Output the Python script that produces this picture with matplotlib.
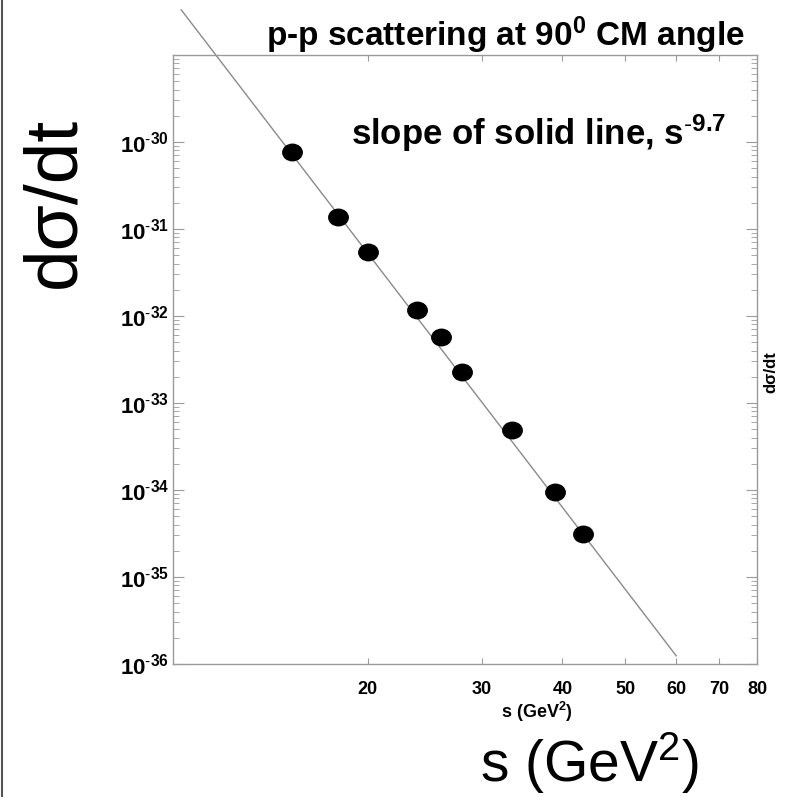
import numpy as np
import matplotlib
matplotlib.use("Agg")
import matplotlib.pyplot as plt
import matplotlib.path as mpath
from matplotlib.lines import Line2D
from matplotlib.ticker import FixedLocator, FixedFormatter, NullFormatter, NullLocator

plt.rcParams['font.family'] = ['Liberation Sans', 'DejaVu Sans']
plt.rcParams['mathtext.fontset'] = 'custom'
plt.rcParams['mathtext.rm'] = 'Liberation Sans'
plt.rcParams['mathtext.bf'] = 'Liberation Sans:bold'
plt.rcParams['mathtext.it'] = 'Liberation Sans:italic'

# data
s_vals = [15.3, 18.0, 20.0, 23.8, 26.0, 28.0, 33.4, 39.0, 43.0]
dsdt = [7.7e-31, 1.36e-31, 5.4e-32, 1.17e-32, 5.7e-33, 2.3e-33, 4.9e-34, 9.4e-35, 3.15e-35]

# solid line, s^-9.7
slope = -9.7
norm = 2.2e-19
line_s = np.array([10.3, 60.0])
line_y = norm * line_s ** slope

x_ticks = [20, 30, 40, 50, 60, 70, 80]
y_exps = [-30, -31, -32, -33, -34, -35, -36]

W, H = 786, 797
fig = plt.figure(figsize=(W / 100, H / 100), dpi=100)
ax = fig.add_axes([173 / W, 1 - 664 / H, (757 - 173) / W, (664 - 55) / H])

# slightly wide ellipse marker
circ = mpath.Path.unit_circle()
ell = mpath.Path(circ.vertices * [1.18, 1.0], circ.codes)

ax.plot(line_s, line_y, color='#8a8a8a', lw=1.0, clip_on=False, zorder=2)
ax.plot(s_vals, dsdt, ls='none', marker=ell, ms=14, color='black', zorder=3)

ax.set_xscale('log')
ax.set_yscale('log')
ax.set_xlim(10, 80)
ax.set_ylim(1e-36, 1e-29)

ax.xaxis.set_major_locator(FixedLocator(x_ticks))
ax.xaxis.set_major_formatter(FixedFormatter([str(t) for t in x_ticks]))
ax.xaxis.set_minor_locator(NullLocator())
ax.xaxis.set_minor_formatter(NullFormatter())

ax.yaxis.set_major_locator(FixedLocator([10.0 ** e for e in y_exps]))
ax.yaxis.set_major_formatter(FixedFormatter([r'$\mathbf{10^{\text{-}%d}}$' % -e for e in y_exps]))

for sp in ax.spines.values():
    sp.set_color('#9a9a9a')
    sp.set_linewidth(1.0)

ax.tick_params(which='both', direction='in', top=True, right=True, color='#9a9a9a')
ax.tick_params(axis='x', which='major', length=4, labelsize=13, pad=12)
ax.tick_params(axis='y', which='major', length=8, labelsize=16, pad=3)
ax.tick_params(axis='y', which='minor', length=4)
for lab in ax.get_xticklabels():
    lab.set_fontweight('bold')

# texts
fig.text(505 / W, 1 - 35 / H, r'p-p scattering at 90$^{\mathbf{0}}$ CM angle',
         ha='center', va='center', fontsize=24, fontweight='bold')
fig.text(539 / W, 1 - 133 / H, r'slope of solid line, s$^{\mathbf{\text{-}9.7}}$',
         ha='center', va='center', fontsize=25, fontweight='bold')
fig.text(537 / W, 1 - 712 / H, r's (GeV$^{\mathbf{2}}$)',
         ha='center', va='center', fontsize=13, fontweight='bold')
fig.text(589 / W, 1 - 763 / H, r's (GeV$^{\mathrm{2}}$)',
         ha='center', va='center', fontsize=41)
fig.text(55 / W, 1 - 202 / H, 'dσ/dt', rotation=90,
         ha='center', va='center', fontsize=54)
fig.text(771 / W, 1 - 372 / H, 'dσ/dt', rotation=90,
         ha='center', va='center', fontsize=12, fontweight='bold')

# left image border
fig.add_artist(Line2D([1.5 / W, 1.5 / W], [0, 1], color='#555555', lw=1.5,
                      transform=fig.transFigure))

fig.savefig('out.png', dpi=100)
